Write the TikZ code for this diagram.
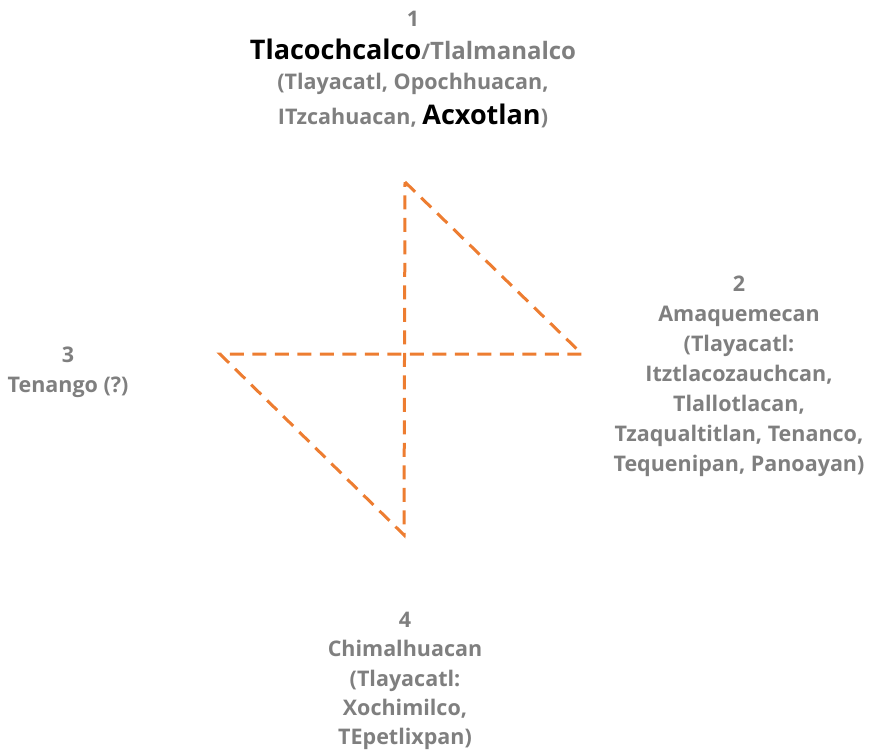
\documentclass[tikz,border=0pt]{standalone}
\usepackage{fontspec}
\setmainfont{Open Sans}
\definecolor{townorange}{HTML}{ED7D31}
\definecolor{towngrey}{HTML}{7F7F7F}
\tikzset{
  town/.style={align=center, text=towngrey, inner sep=1pt, font=\fontsize{21.5}{30}\selectfont\bfseries},
  route/.style={draw=townorange, line width=3pt, dash pattern=on 14pt off 8.5pt}
}
\newcommand{\headtown}[1]{{\color{black}\fontsize{27}{33}\selectfont #1}}

\begin{document}
\begin{tikzpicture}[x=1pt, y=-1pt]
\useasboundingbox (0,0) rectangle (870,750);

 % route
  \coordinate (top) at (405,182);
  \coordinate (right) at (582,354);
  \coordinate (left) at (220,354);
  \coordinate (bottom) at (404,535);
  \draw[route] (top) -- (right) -- (left) -- (bottom) -- cycle;

  % towns
\node[town] (t1) at (413,70) {1\\[3pt] \headtown{Tlacochcalco}/{\fontsize{24}{30}\selectfont Tlalmanalco}\\ (Tlayacatl, Opochhuacan,\\[5pt] ITzcahuacan, \headtown{Acxotlan})};
\node[town] (t2) at (739,376) {2\\ Amaquemecan\\ (Tlayacatl:\\ Itztlacozauchcan,\\ Tlallotlacan,\\ Tzaqualtitlan, Tenanco,\\ Tequenipan, Panoayan)};
\node[town] (t3) at (68,372) {3\\ Tenango (?)};
\node[town, font=\fontsize{21.5}{29.3}\selectfont\bfseries] (t4) at (405,681) {4\\ Chimalhuacan\\ (Tlayacatl:\\ Xochimilco,\\ TEpetlixpan)};
\end{tikzpicture}
\end{document}
